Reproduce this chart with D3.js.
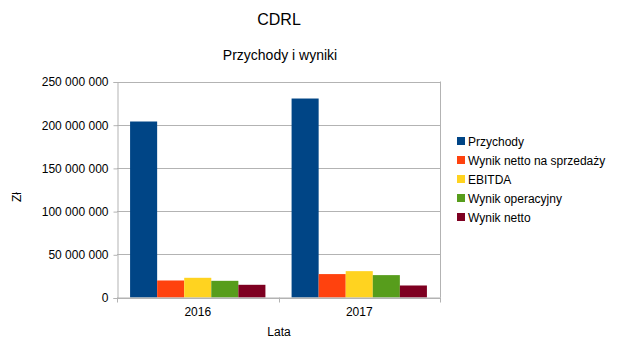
<!DOCTYPE html>
<html>
<head>
<meta charset="utf-8">
<script src="https://cdn.jsdelivr.net/npm/d3@7"></script>
<style>
  body { margin: 0; background: #fff; }
  text { font-family: "Liberation Sans", Arial, sans-serif; fill: #000; }
</style>
</head>
<body>
<div id="chart"></div>
<script>
var years = ["2016", "2017"];
var seriesNames = ["Przychody", "Wynik netto na sprzedaży", "EBITDA", "Wynik operacyjny", "Wynik netto"];
var seriesColors = ["#004586", "#ff420e", "#ffd320", "#579d1c", "#7e0021"];
var przychody = [203700000, 230300000];
var wynikSprzedaz = [19700000, 27100000];
var ebitda = [22800000, 30500000];
var wynikOperacyjny = [19300000, 25900000];
var wynikNetto = [14700000, 13900000];
var yTicks = [0, 50000000, 100000000, 150000000, 200000000, 250000000];

var values = [przychody, wynikSprzedaz, ebitda, wynikOperacyjny, wynikNetto];

var width = 619, height = 352;
var plot = {left: 117, right: 440, top: 81.5, bottom: 297.5};

var svg = d3.select("#chart").append("svg")
    .attr("width", width)
    .attr("height", height);

var x = d3.scaleBand()
    .domain(years)
    .range([plot.left, plot.right])
    .paddingInner(0.162)
    .paddingOuter(0.081);

var xs = d3.scaleBand()
    .domain(d3.range(seriesNames.length))
    .range([0, x.bandwidth()]);

var y = d3.scaleLinear()
    .domain([0, 250000000])
    .range([plot.bottom, plot.top]);

var fmt = function (d) {
    return d3.format(",")(d).replace(/,/g, " ");
};

// gridlines
svg.append("g").selectAll("line")
    .data(yTicks)
    .enter().append("line")
    .attr("x1", plot.left).attr("x2", plot.right)
    .attr("y1", d => Math.round(y(d)) + 0.5)
    .attr("y2", d => Math.round(y(d)) + 0.5)
    .attr("stroke", "#b3b3b3");

// right border
svg.append("line")
    .attr("x1", plot.right + 0.5).attr("x2", plot.right + 0.5)
    .attr("y1", plot.top).attr("y2", plot.bottom)
    .attr("stroke", "#b3b3b3");

// bars
var groups = svg.append("g").selectAll("g")
    .data(years)
    .enter().append("g")
    .attr("transform", d => "translate(" + x(d) + ",0)");

groups.selectAll("rect")
    .data((d, i) => values.map((s, j) => ({s: j, v: s[i]})))
    .enter().append("rect")
    .attr("x", d => xs(d.s))
    .attr("width", xs.bandwidth())
    .attr("y", d => y(d.v))
    .attr("height", d => y(0) - y(d.v))
    .attr("fill", d => seriesColors[d.s]);

// y axis
var yAxis = svg.append("g")
    .attr("transform", "translate(" + (plot.left + 0.5) + ",0.5)")
    .call(d3.axisLeft(y).tickValues(yTicks).tickFormat(fmt).tickSizeOuter(0).tickSize(4).tickPadding(5));
yAxis.select(".domain").attr("stroke", "#b3b3b3");
yAxis.selectAll(".tick line").attr("stroke", "#b3b3b3");
yAxis.selectAll(".tick text")
    .attr("font-size", 12)
    .attr("font-family", "Liberation Sans, Arial, sans-serif")
    .attr("fill", "#000");

// x axis
var xAxis = svg.append("g")
    .attr("transform", "translate(0," + (plot.bottom) + ")")
    .call(d3.axisBottom(x).tickSize(0).tickPadding(10));
xAxis.select(".domain").attr("stroke", "#b3b3b3");
xAxis.selectAll(".tick text")
    .attr("font-size", 12)
    .attr("font-family", "Liberation Sans, Arial, sans-serif")
    .attr("fill", "#000");

// x tick marks at category boundaries
var bounds = [plot.left, (plot.left + plot.right) / 2, plot.right];
svg.append("g").selectAll("line")
    .data(bounds)
    .enter().append("line")
    .attr("x1", d => Math.round(d) + 0.5).attr("x2", d => Math.round(d) + 0.5)
    .attr("y1", plot.bottom).attr("y2", plot.bottom + 5)
    .attr("stroke", "#b3b3b3");

// titles
svg.append("text")
    .attr("x", 279).attr("y", 25)
    .attr("text-anchor", "middle")
    .attr("font-size", 16)
    .text("CDRL");

svg.append("text")
    .attr("x", 280).attr("y", 60)
    .attr("text-anchor", "middle")
    .attr("font-size", 14)
    .text("Przychody i wyniki");

svg.append("text")
    .attr("x", 279).attr("y", 336)
    .attr("text-anchor", "middle")
    .attr("font-size", 12)
    .text("Lata");

svg.append("text")
    .attr("transform", "translate(21,197) rotate(-90)")
    .attr("text-anchor", "middle")
    .attr("font-size", 12)
    .text("Zł");

// legend
var legend = svg.append("g").selectAll("g")
    .data(seriesNames)
    .enter().append("g")
    .attr("transform", (d, i) => "translate(457," + (141 + i * 19) + ")");

legend.append("rect")
    .attr("x", 0).attr("y", -4)
    .attr("width", 8).attr("height", 8)
    .attr("fill", (d, i) => seriesColors[i]);

legend.append("text")
    .attr("x", 11).attr("y", 4.5)
    .attr("font-size", 12)
    .text(d => d);
</script>
</body>
</html>
